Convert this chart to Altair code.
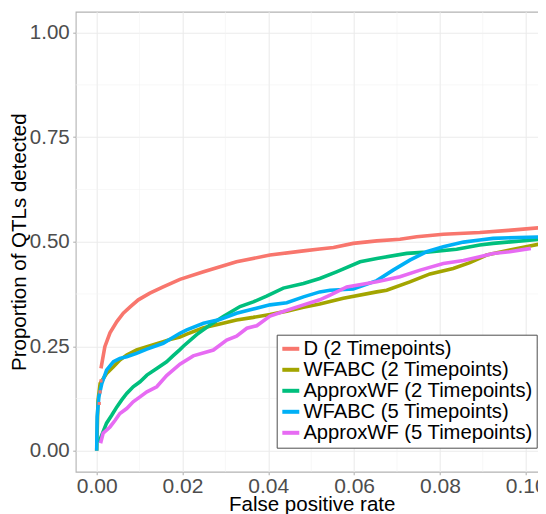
import altair as alt
import pandas as pd

series_names = ["D (2 Timepoints)", "WFABC (2 Timepoints)", "ApproxWF (2 Timepoints)",
                "WFABC (5 Timepoints)", "ApproxWF (5 Timepoints)"]
colors = ["#F8766D", "#A3A500", "#00BF7D", "#00B0F6", "#E76BF3"]

d2_x = [0.0010, 0.0019, 0.0031, 0.0047, 0.0062, 0.0078, 0.0097, 0.0124, 0.0155, 0.0194, 0.0249,
        0.0326, 0.0404, 0.0482, 0.0520, 0.0552, 0.0598, 0.0653, 0.0707, 0.0746, 0.0808, 0.0893,
        0.0960, 0.1039]
d2_y = [0.197, 0.249, 0.282, 0.309, 0.329, 0.344, 0.361, 0.377, 0.392, 0.410, 0.428,
        0.452, 0.468, 0.478, 0.4825, 0.486, 0.496, 0.502, 0.506, 0.512, 0.518, 0.522,
        0.527, 0.534]
d2_dots_x = [0.0006, 0.0008, 0.0010]
d2_dots_y = [0.113, 0.141, 0.167]

wfabc2_x = [0.0, 0.0003, 0.0008, 0.0023, 0.0039, 0.0054, 0.0070, 0.0093, 0.0117, 0.0155, 0.0171,
            0.0194, 0.0210, 0.0249, 0.0287, 0.0326, 0.0365, 0.0404, 0.0443, 0.0482, 0.0520, 0.0575,
            0.0653, 0.0676, 0.0730, 0.0777, 0.0831, 0.0870, 0.0909, 0.0963, 0.1031]
wfabc2_y = [0.0, 0.120, 0.161, 0.185, 0.201, 0.217, 0.229, 0.241, 0.249, 0.261, 0.266,
            0.272, 0.279, 0.294, 0.303, 0.313, 0.319, 0.326, 0.334, 0.343, 0.351, 0.365,
            0.380, 0.384, 0.404, 0.423, 0.436, 0.450, 0.468, 0.480, 0.494]

approx2_x = [0.0005, 0.0012, 0.0023, 0.0035, 0.0047, 0.0058, 0.0070, 0.0085, 0.0101, 0.0117,
             0.0140, 0.0163, 0.0179, 0.0194, 0.0202, 0.0233, 0.0264, 0.0295, 0.0334, 0.0365,
             0.0396, 0.0435, 0.0482, 0.0520, 0.0559, 0.0614, 0.0653, 0.0723, 0.0769, 0.0839,
             0.0893, 0.0924, 0.1037]
approx2_y = [0.020, 0.038, 0.066, 0.085, 0.105, 0.121, 0.137, 0.153, 0.165, 0.181,
             0.197, 0.213, 0.228, 0.242, 0.250, 0.278, 0.301, 0.321, 0.345, 0.356,
             0.370, 0.389, 0.400, 0.412, 0.428, 0.452, 0.460, 0.472, 0.475, 0.482,
             0.492, 0.496, 0.506]

wfabc5_x = [0.0, 0.0001, 0.0005, 0.0012, 0.0023, 0.0039, 0.0054, 0.0070, 0.0093, 0.0117, 0.0155,
            0.0194, 0.0210, 0.0249, 0.0287, 0.0326, 0.0365, 0.0404, 0.0443, 0.0482, 0.0520,
            0.0544, 0.0598, 0.0653, 0.0691, 0.0730, 0.0769, 0.0808, 0.0855, 0.0893, 0.0924,
            0.1047, 0.1070]
wfabc5_y = [0.0, 0.081, 0.129, 0.161, 0.193, 0.213, 0.221, 0.225, 0.233, 0.243, 0.257,
            0.281, 0.289, 0.305, 0.314, 0.329, 0.339, 0.349, 0.354, 0.368, 0.380,
            0.384, 0.387, 0.407, 0.432, 0.456, 0.476, 0.488, 0.499, 0.504, 0.508,
            0.512, 0.513]

approx5_x = [0.0009, 0.0015, 0.0031, 0.0043, 0.0054, 0.0070, 0.0085, 0.0101, 0.0117, 0.0140,
             0.0163, 0.0194, 0.0225, 0.0272, 0.0303, 0.0326, 0.0350, 0.0373, 0.0404, 0.0435,
             0.0482, 0.0520, 0.0544, 0.0583, 0.0653, 0.0707, 0.0754, 0.0808, 0.0855, 0.0893,
             0.0924, 0.0963, 0.1012]
approx5_y = [0.018, 0.042, 0.057, 0.073, 0.089, 0.101, 0.117, 0.129, 0.141, 0.153,
             0.180, 0.207, 0.227, 0.241, 0.265, 0.274, 0.293, 0.299, 0.322, 0.333,
             0.349, 0.361, 0.372, 0.392, 0.404, 0.416, 0.432, 0.448, 0.455, 0.464,
             0.472, 0.476, 0.484]

x_major = [0.0, 0.02, 0.04, 0.06, 0.08, 0.10]
x_minor = [0.01, 0.03, 0.05, 0.07, 0.09]
y_major = [0.0, 0.25, 0.50, 0.75, 1.00]
y_minor = [0.125, 0.375, 0.625, 0.875]

all_series = [(series_names[0], d2_x, d2_y), (series_names[1], wfabc2_x, wfabc2_y),
              (series_names[2], approx2_x, approx2_y), (series_names[3], wfabc5_x, wfabc5_y),
              (series_names[4], approx5_x, approx5_y)]
rows = []
for name, xs, ys in all_series:
    for i, (xv, yv) in enumerate(zip(xs, ys)):
        rows.append({"series": name, "fpr": xv, "power": yv, "idx": i})
df = pd.DataFrame(rows)
dots = pd.DataFrame({"fpr": d2_dots_x, "power": d2_dots_y})

FONT = "Liberation Sans"
x_scale = alt.Scale(domain=[-0.004895, 0.10497], nice=False, zero=False)
y_scale = alt.Scale(domain=[-0.05, 1.05], nice=False, zero=False)

x_axis = alt.Axis(title="False positive rate", values=x_major, format=".2f", grid=True,
                  gridColor="#EBEBEB", gridWidth=1.1, domain=False, tickSize=3,
                  tickColor="#b3b3b3", tickWidth=1.1, labelFont=FONT, labelFontSize=21,
                  labelColor="#4D4D4D", labelPadding=1, labelFlush=False, labelOverlap=False,
                  titleFont=FONT, titleFontSize=20.5, titleColor="black", titleFontWeight="normal",
                  titleX=236, titleY=38.5, titleBaseline="alphabetic", titleAlign="center")
y_axis = alt.Axis(title="Proportion of QTLs detected", values=y_major, format=".2f", grid=True,
                  gridColor="#EBEBEB", gridWidth=1.1, domain=False, tickSize=3,
                  tickColor="#b3b3b3", tickWidth=1.1, labelFont=FONT, labelFontSize=20.5,
                  labelColor="#4D4D4D", labelPadding=3.5, labelFlush=False, labelOverlap=False,
                  titleFont=FONT, titleFontSize=20.5, titleColor="black", titleFontWeight="normal",
                  titleX=-49.7, titleY=230, titleAngle=270, titleBaseline="alphabetic",
                  titleAlign="center")

minor_x_layer = alt.Chart(pd.DataFrame({"fpr": x_minor})).mark_rule(
    color="#F2F2F2", strokeWidth=0.6).encode(x=alt.X("fpr:Q", scale=x_scale, axis=x_axis))
minor_y_layer = alt.Chart(pd.DataFrame({"power": y_minor})).mark_rule(
    color="#F2F2F2", strokeWidth=0.6).encode(y=alt.Y("power:Q", scale=y_scale, axis=y_axis))

lines = alt.Chart(df).mark_line(strokeWidth=3.6, clip=True).encode(
    x=alt.X("fpr:Q", scale=x_scale, axis=x_axis),
    y=alt.Y("power:Q", scale=y_scale, axis=y_axis),
    color=alt.Color("series:N", scale=alt.Scale(domain=series_names, range=colors),
                    legend=alt.Legend(title=None, orient="none", legendX=201, legendY=323,
                                      direction="vertical", symbolType="M-1.13,0L1.13,0",
                                      symbolSize=225, symbolStrokeWidth=4,
                                      labelFont=FONT, labelFontSize=20.2, labelColor="black",
                                      labelLimit=400, padding=4, strokeColor="#4d4d4d",
                                      fillColor="white", rowPadding=-1,
                                      labelOffset=2.5)),
    order="idx:Q",
)

dot_layer = alt.Chart(dots).mark_square(size=10, color="#F8766D", opacity=1, clip=True).encode(
    x=alt.X("fpr:Q", scale=x_scale, axis=x_axis),
    y=alt.Y("power:Q", scale=y_scale, axis=y_axis),
)

chart = alt.layer(minor_x_layer, minor_y_layer, lines, dot_layer).properties(
    width=471.3, height=460,
    padding={"left": 67.7, "top": 3.7, "right": -9, "bottom": 42.3},
    autosize=alt.AutoSizeParams(type="none"),
).configure_view(stroke="#b3b3b3", strokeWidth=1.1)

chart.save("out.html", embed_options={"renderer": "svg", "actions": False})
